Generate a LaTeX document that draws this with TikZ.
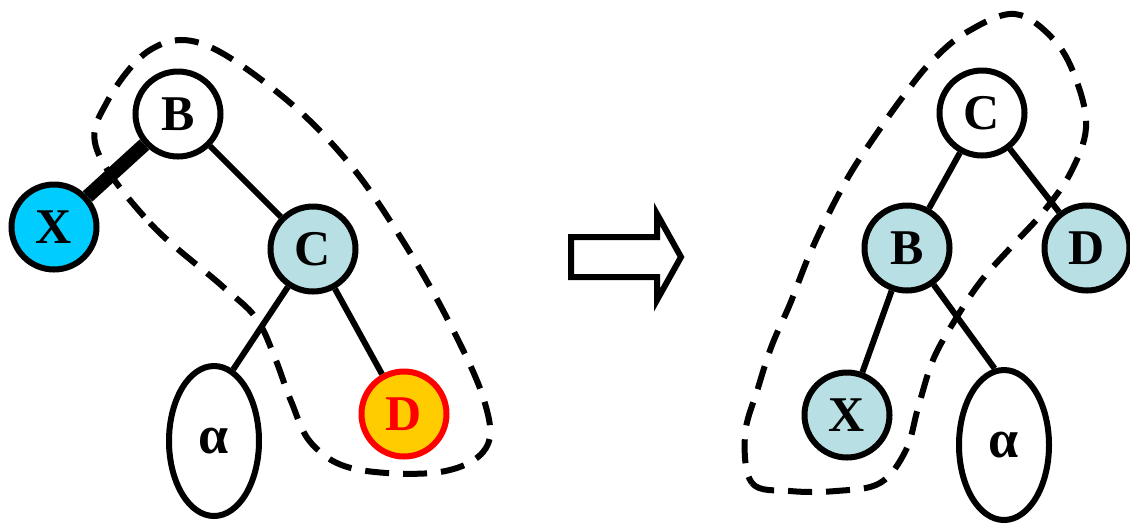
\documentclass[tikz,border=0pt]{standalone}
\usepackage{fontspec}
\setmainfont{Liberation Serif}
\usetikzlibrary{shapes.geometric}
\definecolor{xblue}{HTML}{00CCFF}
\definecolor{paleteal}{HTML}{B8DFE3}
\definecolor{gold}{HTML}{FFCC00}
\tikzset{
  vertex/.style={circle, draw, line width=3pt, minimum size=42.5pt, inner sep=0pt,
    font=\fontsize{25}{25}\selectfont\bfseries},
  subtree/.style={ellipse, draw, line width=3pt, minimum width=45pt, minimum height=75pt,
    inner sep=0pt, font=\fontsize{27}{27}\selectfont\bfseries},
  link/.style={line width=3pt},
  ring/.style={line width=3pt, dash pattern=on 12pt off 7pt}
}

\begin{document}
\begin{tikzpicture}[x=0.5pt, y=-0.5pt]
    \useasboundingbox (0,0) rectangle (1130,527);

    % before: B on top, X hangs off the heavy edge
    \foreach \n/\t/\x/\y/\f in {
        lB/B/178/114/white, lX/X/54/227/xblue, lC/C/313/249/paleteal}
        \node[vertex, fill=\f] (\n) at (\x,\y) {\t};
    \node[vertex, fill=gold, draw=red, text=red] (lD) at (404,414) {D};
    \node[subtree] (la) at (214,441) {α};

    \draw[link, line width=7pt] (lB) -- (lX);
    \foreach \a/\b in {lB/lC, lC/lD}
        \draw[link] (\a) -- (\b);
    \draw[link] (lC) -- (la.75);

    \draw[ring] plot[smooth cycle, tension=0.6] coordinates {
        (97,150) (150,223) (221,285) (256,318) (275,358) (291,401) (312,444)
        (355,469) (440,472) (486,448) (484,400) (448,320) (401,238)
        (348,162) (282,96) (203,44) (150,50) (107,102)};

    % the big hollow arrow
    \draw[line width=3pt, line join=miter]
        (571,237) -- (657,237) -- (657,214) -- (681,257) -- (657,300)
        -- (657,277) -- (571,277) -- cycle;

    % after: C on top
    \foreach \n/\t/\x/\y/\f in {
        rC/C/982/113/white, rB/B/907/248/paleteal,
        rD/D/1087/248/paleteal, rX/X/847/415/paleteal}
        \node[vertex, fill=\f] (\n) at (\x,\y) {\t};
    \node[subtree] (ra) at (1004,445) {α};

    \foreach \a/\b in {rC/rB, rC/rD, rB/rX}
        \draw[link] (\a) -- (\b);
    \draw[link] (rB) -- (ra.97);

    \draw[ring] plot[smooth cycle, tension=0.6] coordinates {
        (745,435) (752,483) (790,491) (836,491) (880,483) (906,450) (918,408)
        (933,360) (955,320) (981,281) (1013,245) (1044,211) (1071,172)
        (1086,128) (1077,82) (1055,41) (1015,14) (967,32) (931,62) (902,98)
        (875,136) (850,174) (827,217) (808,258) (790,304) (772,345) (758,388)};
\end{tikzpicture}
\end{document}
